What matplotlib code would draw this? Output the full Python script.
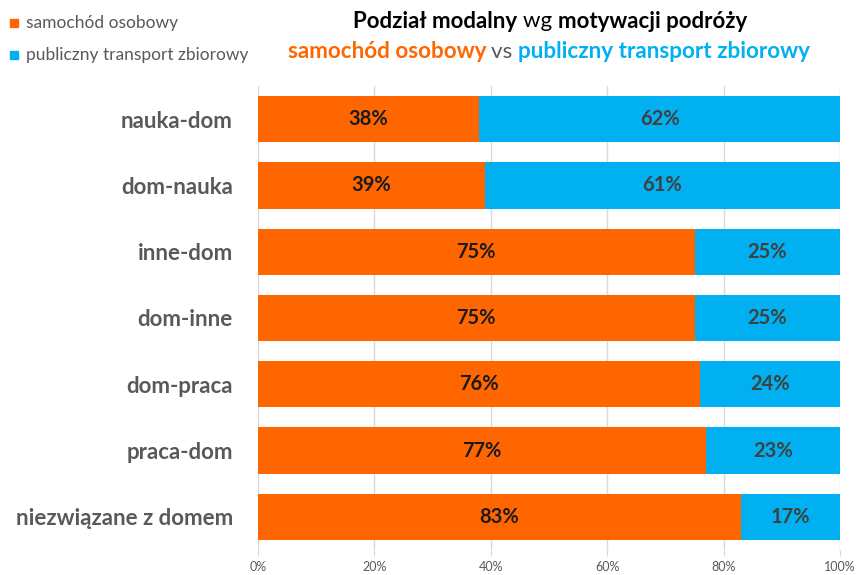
import matplotlib.pyplot as plt
import numpy as np

# share of trips by motivation (top to bottom as shown)
categories = ['nauka-dom', 'dom-nauka', 'inne-dom', 'dom-inne',
              'dom-praca', 'praca-dom', 'niezwiązane z domem']
car = [38, 39, 75, 75, 76, 77, 83]
public = [62, 61, 25, 25, 24, 23, 17]
xticks = [0, 20, 40, 60, 80, 100]

ORANGE = '#FF6600'
BLUE = '#00B0F0'
GRAY = '#595959'
FONT = 'Lato'

plt.rcParams['font.family'] = [FONT, 'DejaVu Sans']

fig = plt.figure(figsize=(8.57, 5.75), dpi=100)
ax = fig.add_axes([258 / 857, 1 - 550 / 575, 582 / 857, 464 / 575])

y = np.arange(len(categories))
ax.barh(y, car, height=0.7, color=ORANGE, zorder=2)
ax.barh(y, public, left=car, height=0.7, color=BLUE, zorder=2)

for yi, c, p in zip(y, car, public):
    ax.text(c / 2, yi, f'{c}%', ha='center', va='center',
            fontsize=14.5, fontweight='bold', color='#1a1a1a', zorder=3)
    ax.text(c + p / 2, yi, f'{p}%', ha='center', va='center',
            fontsize=14.5, fontweight='bold', color='#404040', zorder=3)

ax.set_ylim(len(categories) - 0.5, -0.5)
ax.set_xlim(0, 100)
ax.set_yticks(y)
ax.set_yticklabels(categories, fontsize=16, fontweight='bold', color=GRAY)
ax.set_xticks(xticks)
ax.set_xticklabels([f'{t}%' for t in xticks], fontsize=9, color=GRAY)
ax.tick_params(axis='y', length=0, pad=18)
ax.tick_params(axis='x', length=4, color='#d9d9d9', pad=4)
ax.xaxis.grid(True, color='#d9d9d9', lw=1, zorder=0)
ax.set_axisbelow(True)
for s in ax.spines.values():
    s.set_visible(False)

# legend
for ly, col, lab in [(23, ORANGE, 'samochód osobowy'),
                     (55, BLUE, 'publiczny transport zbiorowy')]:
    fig.patches.append(plt.Rectangle((10 / 857, 1 - (ly + 4) / 575), 8 / 857, 8 / 575,
                                     transform=fig.transFigure, color=col))
    fig.text(26 / 857, 1 - ly / 575, lab, fontsize=12.5, color=GRAY, va='center')


def rich_line(parts, xc, yc, size):
    # parts: (text, color, weight); drawn left to right, centred on xc
    renderer = fig.canvas.get_renderer()
    texts = []
    for s, col, w in parts:
        t = fig.text(0, 1 - yc / 575, s, color=col, fontweight=w,
                     fontsize=size, va='center', ha='left')
        texts.append(t)
    widths = [t.get_window_extent(renderer).width for t in texts]
    x = xc - sum(widths) / 2
    for t, wd in zip(texts, widths):
        t.set_x(x / 857)
        x += wd


rich_line([('Podział modalny ', 'black', 'bold'),
           ('wg ', 'black', 'normal'),
           ('motywacji podróży', 'black', 'bold')], 550, 21, 16)
rich_line([('samochód osobowy ', ORANGE, 'bold'),
           ('vs ', GRAY, 'normal'),
           ('publiczny transport zbiorowy', BLUE, 'bold')], 549, 52, 16.2)

fig.savefig('out.png', dpi=100)
